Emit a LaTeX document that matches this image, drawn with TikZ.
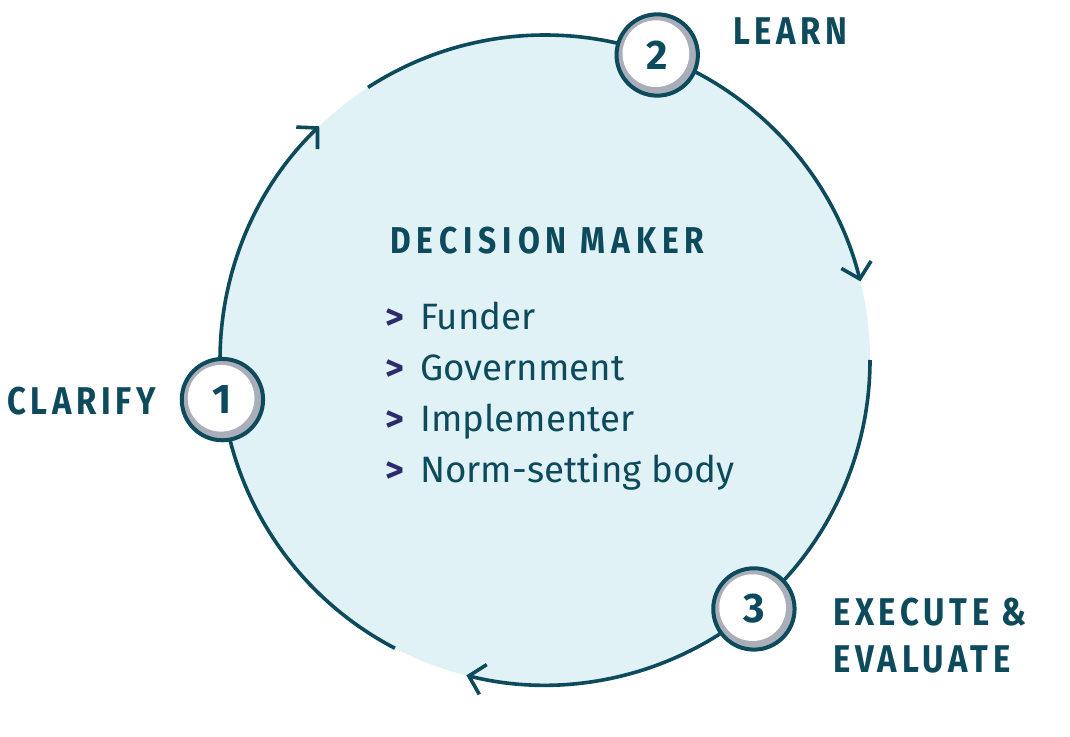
\documentclass[tikz,border=0pt]{standalone}
\usepackage{fontspec}
\setmainfont{Fira Sans}
\newfontfamily\headfont[FakeStretch=0.85,LetterSpace=12]{Fira Sans}
\newfontfamily\makerfont[FakeStretch=0.85,LetterSpace=16]{Fira Sans}
\usetikzlibrary{arrows.meta}
\definecolor{deepteal}{HTML}{0C4A5C}
\definecolor{paleblue}{HTML}{E1F2F7}
\definecolor{ringgray}{HTML}{A9AEB9}
\definecolor{chevron}{HTML}{2D2B6B}

\begin{document}
\begin{tikzpicture}[x=0.75pt,y=0.75pt,
    cycle arc/.style={draw=deepteal,line width=2.7pt,
        -{Straight Barb[length=11pt,width=23pt,line width=2.7pt]}},
    num/.style={circle,minimum size=61pt,draw=deepteal,line width=3pt,fill=ringgray,
        text=deepteal,font=\fontsize{31}{31}\selectfont\bfseries,
        path picture={\fill[white] ([xshift=-1pt,yshift=1pt]path picture bounding box.center) circle (25pt);}},
    stage/.style={text=deepteal,font=\headfont\fontsize{29}{34}\selectfont\bfseries,
        inner sep=0pt,anchor=base west},
    role/.style={text=deepteal,font=\fontsize{27.5}{32}\selectfont,inner sep=0pt,anchor=base west}]
    \useasboundingbox (0,0) rectangle (1070,736);
    \coordinate (hub) at (545,376);
    \fill[paleblue] (hub) circle [radius=325];

    \draw[cycle arc] ([shift={(242.5:325)}]hub) arc [start angle=242.5,end angle=134,radius=325];
    \draw[cycle arc] ([shift={(123:325)}]hub) arc [start angle=123,end angle=14,radius=325];
    \draw[cycle arc] ([shift={(0:325)}]hub) arc [start angle=0,end angle=-104,radius=325];

    \node[num] (clarify) at ([shift={(187:325)}]hub) {1};
    \node[num] (learn) at ([shift={(69.8:325)}]hub) {2};
    \node[num] (execute) at ([shift={(-50:325)}]hub) {3};

    \node[stage] (clarifytxt) at (7,321) {CLARIFY};
    \node[stage] (learntxt) at (733,691) {LEARN};
    \node[stage] (executetxt) at (833,111) {EXECUTE \&};
    \node[stage] (evaluatetxt) at (833,64) {EVALUATE};

    \node[stage,font=\makerfont\fontsize{28}{32}\selectfont\bfseries] (maker) at (390,482) {DECISION MAKER};
    \foreach \who [count=\i] in {Funder,Government,Implementer,Norm-setting body} {
        \node[role,text=chevron,font=\fontsize{27}{32}\selectfont\bfseries] (chev\i) at (385,{406-(\i-1)*50.7}) {>};
        \node[role] (role\i) at (420,{406-(\i-1)*50.7}) {\who};
    }

\end{tikzpicture}
\end{document}
